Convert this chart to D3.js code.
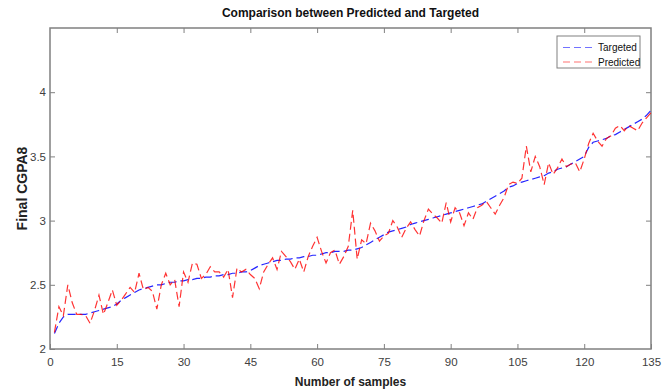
<!DOCTYPE html>
<html>
<head>
<meta charset="utf-8">
<script src="https://cdn.jsdelivr.net/npm/d3@7"></script>
<style>
	body { margin: 0; background: #fff; }
	svg { display: block; }
	.axis text { font-family: 'Liberation Sans', Arial, sans-serif; font-size: 11.5px; fill: #404040; }
	.axis line { stroke: #808080; }
	.axis path { display: none; }
</style>
</head>
<body>
<div id="chart"></div>
<script>
// sample index 1..135
const targeted = [
	2.12, 2.20, 2.25, 2.27, 2.27, 2.27, 2.27, 2.27, 2.28, 2.29,
	2.30, 2.31, 2.32, 2.33, 2.35, 2.38, 2.40, 2.42, 2.44, 2.46,
	2.47, 2.48, 2.49, 2.50, 2.50, 2.51, 2.52, 2.52, 2.53, 2.53,
	2.54, 2.54, 2.55, 2.55, 2.56, 2.56, 2.57, 2.57, 2.58, 2.58,
	2.59, 2.59, 2.60, 2.60, 2.61, 2.63, 2.65, 2.66, 2.67, 2.68,
	2.69, 2.69, 2.70, 2.70, 2.71, 2.71, 2.72, 2.72, 2.73, 2.73,
	2.74, 2.75, 2.75, 2.76, 2.76, 2.76, 2.77, 2.77, 2.78, 2.79,
	2.81, 2.83, 2.85, 2.87, 2.89, 2.91, 2.92, 2.93, 2.94, 2.95,
	2.97, 2.98, 2.99, 3.00, 3.01, 3.02, 3.03, 3.04, 3.05, 3.06,
	3.07, 3.08, 3.09, 3.10, 3.11, 3.12, 3.13, 3.15, 3.17, 3.19,
	3.21, 3.23, 3.26, 3.27, 3.29, 3.30, 3.31, 3.32, 3.33, 3.34,
	3.35, 3.37, 3.38, 3.40, 3.41, 3.42, 3.44, 3.46, 3.48, 3.50,
	3.57, 3.61, 3.62, 3.63, 3.64, 3.66, 3.67, 3.69, 3.71, 3.73,
	3.75, 3.77, 3.79, 3.82, 3.86
];

const predicted = [
	2.13, 2.33, 2.26, 2.50, 2.36, 2.27, 2.27, 2.26, 2.20, 2.30,
	2.42, 2.27, 2.36, 2.46, 2.34, 2.38, 2.43, 2.48, 2.44, 2.59,
	2.46, 2.48, 2.45, 2.31, 2.50, 2.59, 2.50, 2.54, 2.33, 2.60,
	2.52, 2.67, 2.66, 2.55, 2.58, 2.64, 2.60, 2.60, 2.56, 2.62,
	2.40, 2.63, 2.60, 2.62, 2.58, 2.55, 2.47, 2.60, 2.66, 2.71,
	2.62, 2.76, 2.72, 2.68, 2.62, 2.70, 2.60, 2.72, 2.80, 2.87,
	2.76, 2.67, 2.75, 2.77, 2.66, 2.72, 2.80, 3.08, 2.70, 2.85,
	2.82, 2.98, 2.92, 2.84, 2.88, 2.90, 3.00, 2.95, 2.87, 2.94,
	2.99, 2.93, 2.88, 3.00, 3.09, 3.05, 3.02, 2.98, 3.14, 2.99,
	3.10, 3.06, 2.96, 3.06, 3.01, 3.10, 3.12, 3.15, 3.10, 3.05,
	3.12, 3.18, 3.28, 3.30, 3.29, 3.33, 3.58, 3.38, 3.50, 3.42,
	3.28, 3.45, 3.36, 3.41, 3.48, 3.42, 3.44, 3.45, 3.38, 3.48,
	3.60, 3.68, 3.62, 3.58, 3.64, 3.66, 3.72, 3.74, 3.70, 3.74,
	3.72, 3.70, 3.76, 3.80, 3.84
];

const xTicks = [0, 15, 30, 45, 60, 75, 90, 105, 120, 135];
const yTicks = [2, 2.5, 3, 3.5, 4];
const seriesNames = ['Targeted', 'Predicted'];
const seriesColors = ['#0000ff', '#ff0000'];

const width = 672;
const height = 392;
const margin = { top: 28, right: 21, bottom: 43, left: 50 };

const svg = d3.select('#chart').append('svg')
	.attr('width', width)
	.attr('height', height);

const x = d3.scaleLinear().domain([0, 135]).range([margin.left, width - margin.right]);
const y = d3.scaleLinear().domain([2, 4.5]).range([height - margin.bottom, margin.top]);

//
// axes (ticks point inward, box all round)
//
svg.append('g').attr('class', 'axis')
	.attr('transform', `translate(0,${y(2)})`)
	.call(d3.axisBottom(x).tickValues(xTicks).tickSizeInner(-5).tickSizeOuter(0).tickPadding(9));

svg.append('g').attr('class', 'axis')
	.attr('transform', `translate(0,${y(4.5)})`)
	.call(d3.axisTop(x).tickValues(xTicks.slice(1, -1)).tickSizeInner(-5).tickSizeOuter(0).tickFormat(''));

svg.append('g').attr('class', 'axis')
	.attr('transform', `translate(${x(0)},0)`)
	.call(d3.axisLeft(y).tickValues(yTicks).tickSizeInner(-5).tickSizeOuter(0).tickPadding(4)
		.tickFormat(d3.format('~g')));

svg.append('g').attr('class', 'axis')
	.attr('transform', `translate(${x(135)},0)`)
	.call(d3.axisRight(y).tickValues(yTicks.slice(1)).tickSizeInner(-5).tickSizeOuter(0).tickFormat(''));

svg.append('rect')
	.attr('x', x(0)).attr('y', y(4.5))
	.attr('width', x(135) - x(0)).attr('height', y(2) - y(4.5))
	.attr('fill', 'none')
	.attr('stroke', '#808080')
	.attr('stroke-width', 1.5);

//
// lines
//
const line = d3.line()
	.x((d, i) => x(i + 1))
	.y((d) => y(d));

[targeted, predicted].forEach((data, k) => {
	svg.append('path')
		.datum(data)
		.attr('d', line)
		.attr('fill', 'none')
		.attr('stroke', seriesColors[k])
		.attr('stroke-width', 1.2)
		.attr('stroke-dasharray', '8,4')
		.attr('opacity', k === 0 ? 0.85 : 0.8);
});

//
// titles
//
svg.append('text')
	.attr('x', (x(0) + x(135)) / 2).attr('y', 17)
	.attr('text-anchor', 'middle')
	.style('font-family', "'Liberation Sans', Arial, sans-serif")
	.style('font-size', '12px').style('font-weight', 'bold').style('fill', '#111')
	.text('Comparison between Predicted and Targeted');

svg.append('text')
	.attr('x', (x(0) + x(135)) / 2).attr('y', 386)
	.attr('text-anchor', 'middle')
	.style('font-family', "'Liberation Sans', Arial, sans-serif")
	.style('font-size', '12px').style('font-weight', 'bold').style('fill', '#222')
	.text('Number of samples');

svg.append('text')
	.attr('transform', `translate(27,${(y(2) + y(4.5)) / 2}) rotate(-90)`)
	.attr('text-anchor', 'middle')
	.style('font-family', "'Liberation Sans', Arial, sans-serif")
	.style('font-size', '14px').style('font-weight', 'bold').style('fill', '#222')
	.text('Final CGPA8');

//
// legend
//
const legend = svg.append('g').attr('transform', 'translate(557,36)');

legend.append('rect')
	.attr('width', 83).attr('height', 32)
	.attr('fill', '#fff')
	.attr('stroke', '#808080');

seriesNames.forEach((name, k) => {
	const ly = 11.5 + k * 14.5;
	legend.append('line')
		.attr('x1', 6).attr('x2', 38)
		.attr('y1', ly).attr('y2', ly)
		.attr('stroke', seriesColors[k])
		.attr('stroke-width', 1.2)
		.attr('stroke-dasharray', '7,4')
		.attr('opacity', 0.55);
	legend.append('text')
		.attr('x', 41).attr('y', ly + 3.5)
		.style('font-family', "'Liberation Sans', Arial, sans-serif")
		.style('font-size', '10px').style('fill', '#111')
		.text(name);
});
</script>
</body>
</html>
